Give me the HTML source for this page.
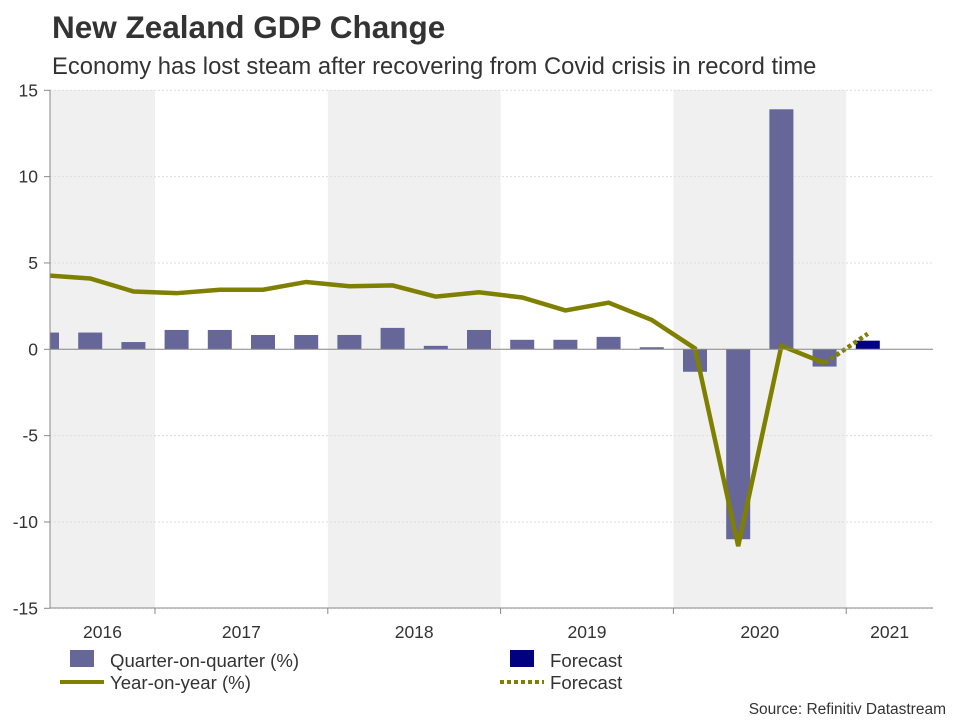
<!DOCTYPE html>
<html><head><meta charset="utf-8"><style>
body{margin:0;background:#fff;width:960px;height:720px;overflow:hidden;font-family:"Liberation Sans",sans-serif}
</style></head><body>
<svg width="960" height="720" id="c" style="font-family:'Liberation Sans',sans-serif">
<text x="52" y="38" font-size="31.5" font-weight="bold" fill="#333">New Zealand GDP Change</text>
<text x="52" y="74" font-size="23.8" fill="#333">Economy has lost steam after recovering from Covid crisis in record time</text>
<g id="bands"></g><g id="grid"></g><g id="bars"></g><g id="lines"></g><g id="axes"></g>
<g>
<rect x="70" y="650" width="24" height="17" fill="#666699"/>
<text x="110" y="667" font-size="18.6" fill="#333">Quarter-on-quarter (%)</text>
<rect x="510" y="650" width="24" height="17" fill="#000080"/>
<text x="550" y="667" font-size="18.6" fill="#333">Forecast</text>
<line x1="60" y1="682" x2="104" y2="682" stroke="#808000" stroke-width="4"/>
<text x="110" y="689" font-size="18.6" fill="#333">Year-on-year (%)</text>
<line x1="500" y1="682" x2="544" y2="682" stroke="#808000" stroke-width="4" stroke-dasharray="4,3"/>
<text x="550" y="689" font-size="18.6" fill="#333">Forecast</text>
</g>
<text x="946" y="714" font-size="15.5" fill="#333" text-anchor="end">Source: Refinitiv Datastream</text>
</svg>
<script>
const years=["2016","2017","2018","2019","2020","2021"];
const qoq=[0.97,0.97,0.42,1.12,1.12,0.83,0.83,0.83,1.24,0.2,1.12,0.55,0.55,0.72,0.12,-1.3,-11.0,13.9,-1.0];
const qoqForecast=[0.5];
const yoy=[4.28,4.1,3.35,3.25,3.45,3.45,3.9,3.65,3.7,3.05,3.3,3.0,2.25,2.7,1.7,0.05,-11.4,0.2,-0.8];
const yoyForecast=[-0.8,0.9];
const yTicks=[15,10,5,0,-5,-10,-15];
const NS="http://www.w3.org/2000/svg";
const L=50,R=933,T=90,B=608;
const y0=349.3,yS=(B-T)/30;
const Y=v=>y0-v*yS;
const qw=43.2, x0=47;
const X=i=>x0+i*qw;
function mk(p,tag,a){const e=document.createElementNS(NS,tag);for(const k in a)e.setAttribute(k,a[k]);document.getElementById(p).appendChild(e);return e;}
years.forEach((yr,k)=>{
  const xs=X(-1)-qw/2+k*4*qw, xe=xs+4*qw;
  const a=Math.max(xs,L), b=Math.min(xe,R);
  if(k%2==0){const r=mk("bands","rect",{x:a,y:T,width:b-a,height:B-T,fill:"#f0f0f0"});
  
  }
  const t=mk("axes","text",{x:(a+b)/2,y:638,"font-size":17.5,fill:"#333","text-anchor":"middle"});t.textContent=yr;
  
  
  if(k>0){const l=mk("axes","line",{x1:xs,x2:xs,y1:B,y2:B+6,stroke:"#888"});
  
  }
});
yTicks.forEach(v=>{
  const g=mk("grid","line",{x1:L,x2:R,y1:Y(v),y2:Y(v),stroke:"#ddd","stroke-dasharray":"2,2"});
  
  
  const tk=mk("axes","line",{x1:L-6,x2:L,y1:Y(v),y2:Y(v),stroke:"#888"});
  
  
  const t=mk("axes","text",{x:38,y:Y(v)+6,"font-size":17.5,fill:"#333","text-anchor":"end"});t.textContent=v;
  
  
});
const cp=mk("bars","clipPath",{id:"cl"});mk("cl","rect",{x:L,y:T-10,width:R-L,height:B-T+20});
document.getElementById("bars").setAttribute("clip-path","url(#cl)");
document.getElementById("lines").setAttribute("clip-path","url(#cl)");
qoq.forEach((v,i)=>{
  const r=mk("bars","rect",{x:X(i)-12,y:Math.min(Y(v),y0),width:24,height:Math.abs(Y(v)-y0),fill:"#666699"});
  
  
});
qoqForecast.forEach((v,j)=>{
  const i=qoq.length+j;
  const r=mk("bars","rect",{x:X(i)-12,y:Math.min(Y(v),y0),width:24,height:Math.abs(Y(v)-y0),fill:"#000080"});
  
  
});
const yl=mk("lines","polyline",{points:yoy.map((v,i)=>X(i)+","+Y(v)).join(" "),fill:"none",stroke:"#808000","stroke-width":4.5,"stroke-linejoin":"miter"});


const fl=mk("lines","polyline",{points:yoyForecast.map((v,j)=>X(yoy.length-1+j)+","+Y(v)).join(" "),fill:"none",stroke:"#808000","stroke-width":4.5,"stroke-dasharray":"4,3"});


const ax=mk("axes","line",{x1:L,x2:L,y1:T,y2:B,stroke:"#888"});


const bx=mk("axes","line",{x1:L,x2:R,y1:B,y2:B,stroke:"#888"});


const zx=mk("axes","line",{x1:L,x2:R,y1:y0,y2:y0,stroke:"#888"});


</script>
</body></html>
